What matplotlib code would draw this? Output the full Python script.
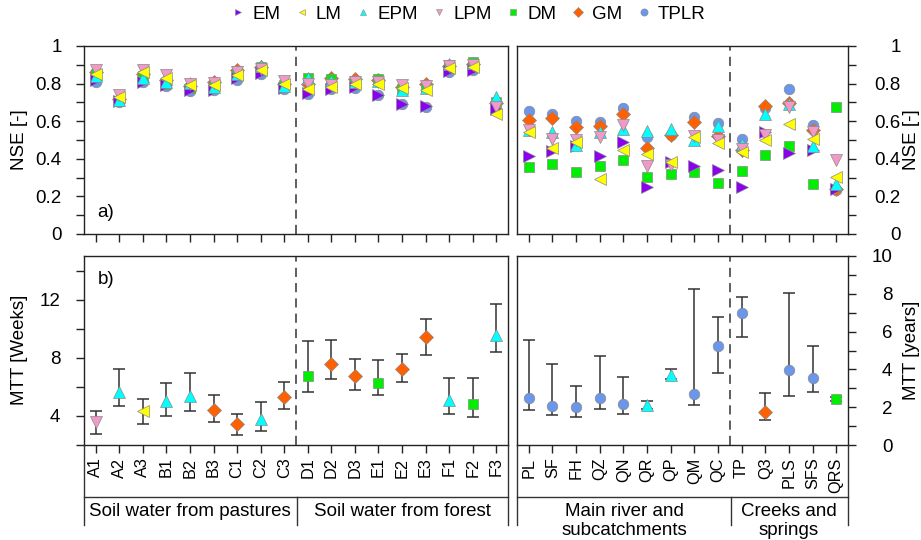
import matplotlib
matplotlib.use('Agg')
import matplotlib.pyplot as plt
from matplotlib.lines import Line2D
from matplotlib.ticker import FixedLocator
import numpy as np

plt.rcParams['font.family'] = ['Liberation Sans', 'DejaVu Sans']

# ---------------- data ----------------
soil_sites = ['A1', 'A2', 'A3', 'B1', 'B2', 'B3', 'C1', 'C2', 'C3',
              'D1', 'D2', 'D3', 'E1', 'E2', 'E3', 'F1', 'F2', 'F3']
stream_sites = ['PL', 'SF', 'FH', 'QZ', 'QN', 'QR', 'QP', 'QM', 'QC',
                'TP', 'Q3', 'PLS', 'SFS', 'QRS']
models = ['EM', 'LM', 'EPM', 'LPM', 'DM', 'GM', 'TPLR']

# NSE, soil water sites
nse_soil_em = [0.82, 0.705, 0.81, 0.79, 0.765, 0.765, 0.83, 0.855, 0.775, 0.75, 0.77, 0.78, 0.74, 0.69, 0.68, 0.865, 0.875, 0.665]
nse_soil_lm = [0.85, 0.73, 0.86, 0.83, 0.79, 0.79, 0.845, 0.875, 0.80, 0.77, 0.78, 0.80, 0.80, 0.775, 0.765, 0.885, 0.89, 0.64]
nse_soil_epm = [0.84, 0.715, 0.83, 0.81, 0.805, 0.78, 0.85, 0.895, 0.785, 0.83, 0.815, 0.81, 0.815, 0.765, 0.775, 0.905, 0.91, 0.73]
nse_soil_lpm = [0.87, 0.74, 0.875, 0.845, 0.80, 0.805, 0.86, 0.88, 0.815, 0.80, 0.795, 0.81, 0.81, 0.79, 0.785, 0.895, 0.90, 0.675]
nse_soil_dm = [0.85, 0.71, 0.84, 0.80, 0.775, 0.785, 0.865, 0.89, 0.79, 0.83, 0.825, 0.815, 0.825, 0.77, 0.78, 0.90, 0.915, 0.70]
nse_soil_gm = [0.86, 0.72, 0.85, 0.82, 0.785, 0.81, 0.87, 0.89, 0.80, 0.80, 0.83, 0.825, 0.82, 0.78, 0.80, 0.895, 0.905, 0.695]
nse_soil_tplr = [0.81, 0.70, 0.81, 0.785, 0.76, 0.765, 0.82, 0.85, 0.77, 0.745, 0.77, 0.775, 0.74, 0.69, 0.675, 0.86, 0.87, 0.66]

# NSE, stream / spring sites
nse_stream_em = [0.415, 0.44, 0.47, 0.415, 0.49, 0.25, 0.385, 0.36, 0.34, 0.25, 0.54, 0.43, 0.445, 0.24]
nse_stream_lm = [0.545, 0.455, 0.49, 0.29, 0.445, 0.425, 0.385, 0.515, 0.485, 0.435, 0.50, 0.585, 0.505, 0.305]
nse_stream_epm = [0.555, 0.54, 0.475, 0.545, 0.56, 0.55, 0.56, 0.50, 0.575, 0.48, 0.64, 0.69, 0.47, 0.265]
nse_stream_lpm = [0.555, 0.505, 0.50, 0.515, 0.58, 0.36, 0.365, 0.52, 0.50, 0.45, 0.525, 0.675, 0.545, 0.395]
nse_stream_dm = [0.355, 0.37, 0.33, 0.36, 0.395, 0.305, 0.32, 0.33, 0.27, 0.335, 0.42, 0.47, 0.265, 0.675]
nse_stream_gm = [0.605, 0.615, 0.57, 0.575, 0.64, 0.455, 0.525, 0.595, 0.52, 0.445, 0.68, 0.695, 0.555, 0.24]
nse_stream_tplr = [0.655, 0.64, 0.60, 0.595, 0.67, 0.515, 0.525, 0.62, 0.59, 0.505, 0.67, 0.77, 0.58, 0.235]

# MTT of best model, soil water (weeks)
mtt_soil_model = ['LPM', 'EPM', 'LM', 'EPM', 'EPM', 'GM', 'GM', 'EPM', 'GM',
                  'DM', 'GM', 'GM', 'DM', 'GM', 'GM', 'EPM', 'DM', 'EPM']
mtt_soil = [3.59, 5.66, 4.35, 5.04, 5.38, 4.39, 3.47, 3.77, 5.29, 6.74, 7.59, 6.72, 6.26, 7.25, 9.44, 5.11, 4.83, 9.58]
mtt_soil_lo = [2.78, 4.67, 3.47, 3.98, 4.35, 3.61, 2.71, 2.96, 4.51, 5.64, 6.56, 5.75, 5.41, 6.35, 8.17, 4.14, 3.93, 8.38]
mtt_soil_hi = [4.35, 7.20, 5.15, 6.24, 6.93, 5.43, 4.16, 4.99, 6.35, 9.16, 9.21, 7.92, 7.82, 8.24, 10.66, 6.63, 6.63, 11.67]

# MTT of best model, streams and springs (years)
mtt_stream_model = ['TPLR', 'TPLR', 'TPLR', 'TPLR', 'TPLR', 'EPM', 'EPM', 'TPLR',
                    'TPLR', 'TPLR', 'GM', 'TPLR', 'TPLR', 'DM']
mtt_stream = [2.51, 2.04, 2.00, 2.51, 2.16, 2.12, 3.72, 2.71, 5.22, 6.99, 1.72, 3.98, 3.56, 2.44]
mtt_stream_lo = [1.84, 1.58, 1.49, 1.93, 1.63, 1.89, 3.49, 2.14, 3.81, 5.72, 1.31, 2.60, 2.78, 2.35]
mtt_stream_hi = [5.58, 4.28, 3.13, 4.69, 3.59, 2.35, 4.04, 8.27, 6.78, 7.82, 2.74, 8.02, 5.22, 2.53]

group_labels = ['Soil water from pastures', 'Soil water from forest',
                'Main river and\nsubcatchments', 'Creeks and\nsprings']

nse_soil = [nse_soil_em, nse_soil_lm, nse_soil_epm, nse_soil_lpm, nse_soil_dm, nse_soil_gm, nse_soil_tplr]
nse_stream = [nse_stream_em, nse_stream_lm, nse_stream_epm, nse_stream_lpm, nse_stream_dm, nse_stream_gm, nse_stream_tplr]

# ---------------- styles ----------------
mk = {'EM': '>', 'LM': '<', 'EPM': '^', 'LPM': 'v', 'DM': 's', 'GM': 'D', 'TPLR': 'o'}
col = {'EM': '#8C00F0', 'LM': '#FFFF00', 'EPM': '#00FFFF', 'LPM': '#F299C8',
       'DM': '#00EE00', 'GM': '#FF6000', 'TPLR': '#6A96EC'}
msz = {'EM': 8, 'LM': 8, 'EPM': 8, 'LPM': 8, 'DM': 6.8, 'GM': 7.6, 'TPLR': 7.6}
zo = {'TPLR': 3, 'GM': 4, 'DM': 5, 'EM': 6, 'EPM': 7, 'LPM': 8, 'LM': 9}
EC = '#8a8a8a'

W, H = 921, 540
fig = plt.figure(figsize=(W / 100, H / 100), dpi=100)


def fx(p):
    return p / W


def fy(p):
    return 1 - p / H


def box(x0, x1, y0, y1):
    return [fx(x0), fy(y1), fx(x1) - fx(x0), fy(y0) - fy(y1)]


ax_tl = fig.add_axes(box(84, 508, 46, 234))
ax_tr = fig.add_axes(box(517, 848, 46, 234))
ax_bl = fig.add_axes(box(84, 508, 256, 445))
ax_br = fig.add_axes(box(517, 848, 256, 445))

for ax in (ax_tl, ax_tr, ax_bl, ax_br):
    for s in ax.spines.values():
        s.set_linewidth(1.0)
        s.set_color('#222222')
    ax.tick_params(axis='both', which='both', direction='out', length=6, width=1.0,
                   color='#222222')
    ax.axvline(8.5, color='#333333', lw=1.1, ls=(0, (6, 4)), zorder=1)

# x axes
for ax, sites in ((ax_tl, soil_sites), (ax_bl, soil_sites), (ax_tr, stream_sites), (ax_br, stream_sites)):
    ax.set_xlim(-0.5, len(sites) - 0.5)
    ax.set_xticks(np.arange(len(sites)))
for ax in (ax_tl, ax_tr):
    ax.set_xticklabels([])
ax_bl.set_xticklabels(soil_sites, rotation=90, fontsize=11.7)
ax_br.set_xticklabels(stream_sites, rotation=90, fontsize=11.7)
for ax in (ax_bl, ax_br):
    ax.tick_params(axis='x', pad=3)

# NSE axes
for ax in (ax_tl, ax_tr):
    ax.set_ylim(0, 1)
    ax.yaxis.set_major_locator(FixedLocator([0, 0.2, 0.4, 0.6, 0.8, 1.0]))
    ax.yaxis.set_minor_locator(FixedLocator([0.1, 0.3, 0.5, 0.7, 0.9]))
ax_tl.set_yticklabels(['0', '0.2', '0.4', '0.6', '0.8', '1'], fontsize=13.5)
ax_tl.tick_params(axis='y', pad=10)
ax_tr.yaxis.tick_right()
ax_tr.yaxis.set_ticks_position('right')
ax_tr.set_yticklabels(['0', '0.2', '0.4', '0.6', '0.8', '1'], fontsize=13.5, ha='right')
ax_tr.tick_params(axis='y', which='both', pad=32)

# MTT axes
ax_bl.set_ylim(2, 15)
ax_bl.yaxis.set_major_locator(FixedLocator([4, 8, 12]))
ax_bl.yaxis.set_minor_locator(FixedLocator([2, 6, 10, 14]))
ax_bl.set_yticklabels(['4', '8', '12'], fontsize=13.5)
ax_bl.tick_params(axis='y', pad=11)
ax_br.set_ylim(0, 10)
ax_br.yaxis.set_major_locator(FixedLocator([0, 2, 4, 6, 8, 10]))
ax_br.yaxis.set_minor_locator(FixedLocator([1, 3, 5, 7, 9]))
ax_br.yaxis.tick_right()
ax_br.set_yticklabels(['0', '2', '4', '6', '8', '10'], fontsize=13.5, ha='right')
ax_br.tick_params(axis='y', which='both', pad=26)
for ax in (ax_tl, ax_bl):
    ax.tick_params(axis='y', which='minor', left=True)

# NSE scatter
for ax, data, sites in ((ax_tl, nse_soil, soil_sites), (ax_tr, nse_stream, stream_sites)):
    x = np.arange(len(sites))
    for m, vals in zip(models, data):
        ax.plot(x, vals, ls='none', marker=mk[m], ms=msz[m], mfc=col[m], mec=EC,
                mew=0.5, zorder=zo[m], clip_on=False)

# MTT with error bars
for ax, vals, lo, hi, mods in ((ax_bl, mtt_soil, mtt_soil_lo, mtt_soil_hi, mtt_soil_model),
                               (ax_br, mtt_stream, mtt_stream_lo, mtt_stream_hi, mtt_stream_model)):
    x = np.arange(len(vals))
    v = np.array(vals)
    yerr = np.vstack([v - np.array(lo), np.array(hi) - v])
    ax.errorbar(x, v, yerr=yerr, fmt='none', ecolor='#333333', elinewidth=1.1,
                capsize=4, capthick=1.1, zorder=2)
    for xi, vi, m in zip(x, v, mods):
        ax.plot([xi], [vi], ls='none', marker=mk[m], ms=msz[m], mfc=col[m], mec=EC,
                mew=0.5, zorder=5)

ax_tl.text(fx(97), fy(213), 'a)', transform=fig.transFigure, fontsize=13.5, va='center', ha='left')
ax_bl.text(fx(98), fy(279), 'b)', transform=fig.transFigure, fontsize=13.5, va='center', ha='left')

# axis titles
fig.text(fx(20), fy(140), 'NSE [-]', rotation=90, ha='center', va='center', fontsize=13.5)
fig.text(fx(20), fy(350), 'MTT [Weeks]', rotation=90, ha='center', va='center', fontsize=13.5)
fig.text(fx(911), fy(140), 'NSE [-]', rotation=90, ha='center', va='center', fontsize=13.5)
fig.text(fx(911), fy(350), 'MTT [years]', rotation=90, ha='center', va='center', fontsize=13.5)

# group table below
lc = '#333333'
for x0, x1 in ((84, 508), (517, 848)):
    fig.add_artist(Line2D([fx(x0), fx(x1)], [fy(497), fy(497)], color=lc, lw=1.0))
for xv in (84, 508, 517, 848):
    fig.add_artist(Line2D([fx(xv), fx(xv)], [fy(445), fy(525)], color=lc, lw=1.0))
for xv in (296.5, 730.5):
    fig.add_artist(Line2D([fx(xv), fx(xv)], [fy(497), fy(525)], color=lc, lw=1.0))

fig.text(fx(190), fy(511), group_labels[0], ha='center', va='center', fontsize=13.5)
fig.text(fx(402), fy(511), group_labels[1], ha='center', va='center', fontsize=13.5)
fig.text(fx(624), fy(521), group_labels[2], ha='center', va='center', fontsize=13.5, linespacing=1.1)
fig.text(fx(789), fy(521), group_labels[3], ha='center', va='center', fontsize=13.5, linespacing=1.1)

# legend
leg_ms = {'EM': 5, 'LM': 5, 'EPM': 5, 'LPM': 5, 'DM': 4.5, 'GM': 5, 'TPLR': 5.2}
handles = [Line2D([], [], ls='none', marker=mk[m], ms=leg_ms[m], mfc=col[m], mec=EC, mew=0.4)
           for m in models]
fig.legend(handles, models, loc='center', bbox_to_anchor=(fx(468), fy(14)), ncol=7,
           frameon=False, fontsize=13.5, handlelength=0.8, handletextpad=0.35,
           columnspacing=0.75, borderpad=0, borderaxespad=0)

fig.savefig('out.png', dpi=100)
